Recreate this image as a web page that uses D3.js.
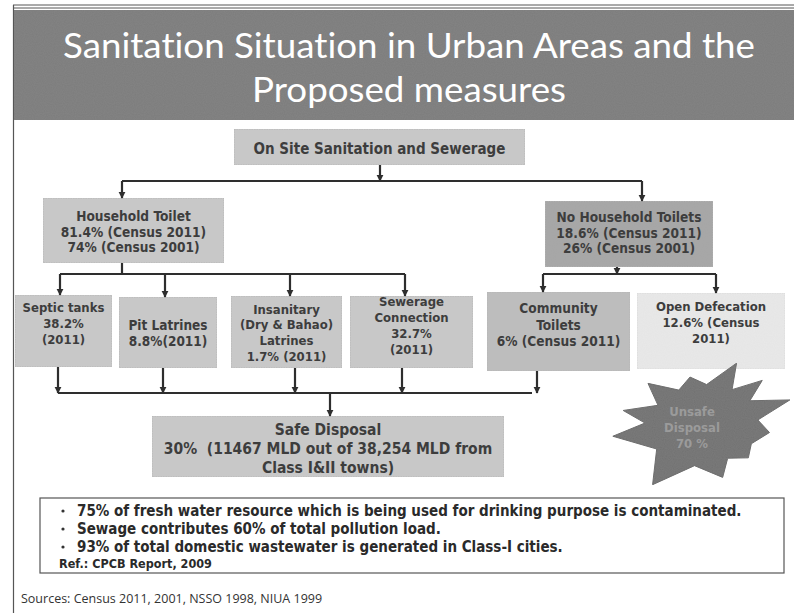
<!DOCTYPE html>
<html><head><meta charset="utf-8">
<script src="https://cdn.jsdelivr.net/npm/d3@7"></script>
<style>html,body{margin:0;padding:0;background:#fff;}svg{display:block;} text{font-variant-ligatures:none;font-feature-settings:"liga" 0;}</style>
</head><body>
<script>
// ---------- data (text content) ----------
const titleLines = ["Sanitation Situation in Urban Areas and the", "Proposed measures"];
const rootLabel = ["On Site Sanitation and Sewerage"];
const householdLabel = ["Household Toilet", "81.4% (Census 2011)", "74% (Census 2001)"];
const noHouseholdLabel = ["No Household Toilets", "18.6% (Census 2011)", "26% (Census 2001)"];
const septicLabel = ["Septic tanks", "38.2%", "(2011)"];
const pitLabel = ["Pit Latrines", "8.8%(2011)"];
const insanitaryLabel = ["Insanitary", "(Dry & Bahao)", "Latrines", "1.7% (2011)"];
const sewerageLabel = ["Sewerage", "Connection", "32.7%", "(2011)"];
const communityLabel = ["Community", "Toilets", "6% (Census 2011)"];
const openDefLabel = ["Open Defecation", "12.6% (Census", "2011)"];
const safeLabel = ["Safe Disposal", "30%  (11467 MLD out of 38,254 MLD from", "Class I&II towns)"];
const unsafeLabel = ["Unsafe", "Disposal", "70 %"];
const noteBullets = [
  "75% of fresh water resource which is being used for drinking purpose is contaminated.",
  "Sewage contributes 60% of total pollution load.",
  "93% of total domestic wastewater is generated in Class-I cities."
];
const noteRef = "Ref.: CPCB Report, 2009";
const sourcesText = "Sources: Census 2011, 2001, NSSO 1998, NIUA 1999";

// ---------- layout ----------
const W = 794, H = 613;
const svg = d3.select("body").append("svg").attr("width", W).attr("height", H);
const BOXFONT = "'DejaVu Sans Condensed','DejaVu Sans',Verdana,sans-serif";
const TXT = "#3d3d3d";

const defs = svg.append("defs");
defs.append("marker").attr("id","arr").attr("viewBox","0 0 10 10")
  .attr("refX",9).attr("refY",5).attr("markerWidth",3.2).attr("markerHeight",3.6)
  .attr("orient","auto").attr("markerUnits","strokeWidth")
  .append("path").attr("d","M0,0 L10,5 L0,10 z").attr("fill","#2e2e2e");
const f = defs.append("filter").attr("id","grain").attr("x",0).attr("y",0).attr("width",1).attr("height",1);
f.append("feTurbulence").attr("type","fractalNoise").attr("baseFrequency",0.9).attr("numOctaves",1).attr("seed",3).attr("result","n");
f.append("feColorMatrix").attr("in","n").attr("type","matrix")
  .attr("values","0 0 0 0 0.5  0 0 0 0 0.5  0 0 0 0 0.5  0 0 0 0.12 0").attr("result","g");
f.append("feComposite").attr("in","g").attr("in2","SourceGraphic").attr("operator","atop");

// frame
svg.append("line").attr("x1",13).attr("x2",W).attr("y1",5).attr("y2",5).attr("stroke","#555").attr("stroke-width",1);
svg.append("line").attr("x1",13).attr("x2",W).attr("y1",8).attr("y2",8).attr("stroke","#555").attr("stroke-width",1);
svg.append("line").attr("x1",13.5).attr("x2",13.5).attr("y1",5).attr("y2",H).attr("stroke","#555").attr("stroke-width",1.2);

// header
svg.append("rect").attr("x",14).attr("y",10).attr("width",W-14).attr("height",110)
  .attr("fill","#7b7b7b").attr("filter","url(#grain)");
const titleY = [58, 102];
const titleEls = titleLines.map((t,i)=> svg.append("text").attr("x",409).attr("y",titleY[i]).attr("text-anchor","middle")
    .attr("font-family","Lato,'Open Sans',sans-serif").attr("font-size",35).attr("fill","#fff").text(t));
const k = 692 / titleEls[0].node().getComputedTextLength();
titleEls.forEach(el=>{
  const w = el.node().getComputedTextLength();
  el.attr("textLength", w*k).attr("lengthAdjust","spacingAndGlyphs");
});

// helper to write lines
function writeLines(g, lines, cx, y0, dy, size, color, maxW){
  lines.forEach((t,i)=>{
    const el = g.append("text").attr("x",cx).attr("y",y0+i*dy).attr("text-anchor","middle")
      .attr("dominant-baseline","middle").style("white-space","pre")
      .attr("font-family",BOXFONT).attr("font-stretch","condensed").attr("font-weight","bold")
      .attr("font-size",size).attr("fill",color).text(t);
    if (maxW && el.node().getComputedTextLength() > maxW) el.attr("textLength",maxW).attr("lengthAdjust","spacingAndGlyphs");
  });
}
function box(b){
  const g = svg.append("g");
  g.append("rect").attr("x",b.x).attr("y",b.y).attr("width",b.w).attr("height",b.h)
    .attr("fill",b.fill).attr("stroke",b.stroke||"#b5b5b5").attr("stroke-width",1)
    .attr("stroke-dasharray","1.5,1").attr("filter","url(#grain)");
  writeLines(g, b.lines, b.x+b.w/2, b.ty, b.dy||16, b.size||13, TXT, b.w-4);
}
const L = "#c9c9c9", M = "#bdbdbd", D = "#a5a5a5", P = "#e9e9e9";
const boxes = [
  {lines:rootLabel, x:234, y:129, w:291, h:36, fill:L, ty:149, size:15},
  {lines:householdLabel, x:43, y:198, w:181, h:65, fill:L, ty:217, dy:15.5, size:13.6},
  {lines:noHouseholdLabel, x:545, y:201, w:168, h:66, fill:D, ty:218, dy:15.5, size:13.6},
  {lines:septicLabel, x:15, y:295, w:97, h:72, fill:L, ty:308, dy:16},
  {lines:pitLabel, x:119, y:297, w:98, h:71, fill:L, ty:326, dy:16, size:13.5},
  {lines:insanitaryLabel, x:231, y:296, w:111, h:72, fill:L, ty:310, dy:15.7},
  {lines:sewerageLabel, x:350, y:296, w:123, h:72, fill:L, ty:302, dy:16},
  {lines:communityLabel, x:487, y:292, w:143, h:79, fill:M, ty:309, dy:16.5, size:13.6},
  {lines:openDefLabel, x:637, y:293, w:148, h:76, fill:P, ty:307, dy:16, stroke:"#dcdcdc"},
  {lines:safeLabel, x:152, y:416, w:352, h:61, fill:L, ty:430, dy:19, size:15.5}
];
boxes.forEach(box);

// connectors
const line = d3.line();
function conn(pts, arrow){
  svg.append("path").attr("d", line(pts)).attr("fill","none").attr("stroke","#2e2e2e")
    .attr("stroke-width",2.2).attr("marker-end", arrow ? "url(#arr)" : null);
}
conn([[380,165],[380,181]], true);
conn([[122,181],[642,181]], false);
conn([[122,181],[122,198]], true);
conn([[642,181],[642,201]], true);
conn([[122,263],[122,274]], false);
conn([[60,274],[405,274]], false);
[[60,295],[165,297],[290,296],[405,296]].forEach(p=>conn([[p[0],274],p], true));
conn([[617,267],[617,274]], true);
conn([[543,274],[716,274]], false);
conn([[543,274],[543,292]], true);
conn([[716,274],[716,293]], true);
[[58,367],[163,368],[295,368],[402,368],[537,371]].forEach(p=>conn([p,[p[0],393]], true));
conn([[58,393],[532,393]], false);
conn([[330,393],[330,416]], true);

// star (unsafe disposal)
const starAngles = [31, 55, 75, 97, 125, 157, 218, 262, 280, 308, 348];
const starRadii  = [71, 76, 93, 70, 59, 58, 77, 88, 78, 66, 48];
const starInner  = [47, 55, 58, 55, 44, 42, 50, 55, 46, 40, 40];
const starPts = [];
starAngles.forEach((a,i)=>{
  const next = starAngles[(i+1)%starAngles.length] + (i===starAngles.length-1?360:0);
  starPts.push([a*Math.PI/180, starRadii[i]]);
  starPts.push([((a+next)/2)*Math.PI/180, starInner[i]]);
});
const sg = svg.append("g").attr("transform","translate(700,424)");
sg.append("path").attr("d", d3.lineRadial().curve(d3.curveLinearClosed)(starPts))
  .attr("fill","#707070").attr("stroke","#666").attr("filter","url(#grain)");
writeLines(sg, unsafeLabel, -8, -12, 16, 13, "#9b9b9b");

// notes box
svg.append("rect").attr("x",40).attr("y",498).attr("width",744).attr("height",75)
  .attr("fill","#fff").attr("stroke","#555").attr("stroke-width",1.2);
const noteY = [511, 529, 547];
noteBullets.forEach((t,i)=>{
  svg.append("circle").attr("cx",63).attr("cy",noteY[i]).attr("r",1.6).attr("fill","#333");
  const el = svg.append("text").attr("x",77).attr("y",noteY[i]).attr("dominant-baseline","middle")
    .attr("font-family",BOXFONT).attr("font-stretch","condensed").attr("font-weight","bold")
    .attr("font-size",15).attr("fill","#2a2a2a").text(t);
  if (el.node().getComputedTextLength() > 700) el.attr("textLength",700).attr("lengthAdjust","spacingAndGlyphs");
});
svg.append("text").attr("x",59).attr("y",564).attr("dominant-baseline","middle")
  .attr("font-family",BOXFONT).attr("font-stretch","condensed").attr("font-weight","bold")
  .attr("font-size",12.5).attr("fill","#2a2a2a").text(noteRef);

svg.append("text").attr("x",21).attr("y",600).attr("dominant-baseline","middle")
  .attr("font-family","'Open Sans',Lato,sans-serif").attr("font-size",12.5).attr("fill","#333").text(sourcesText);
</script>
</body></html>
